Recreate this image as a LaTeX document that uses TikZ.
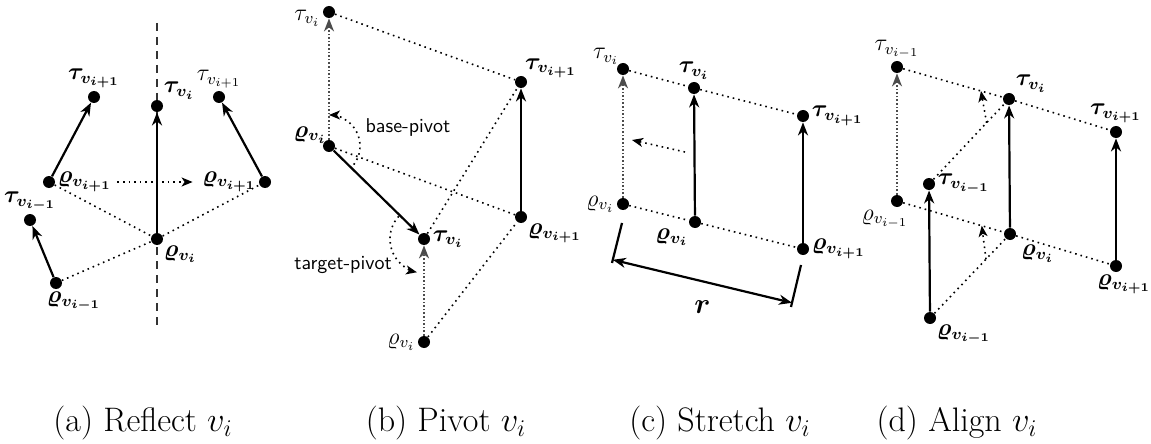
\documentclass[tikz,border=0pt]{standalone}
\usepackage{amsmath,amssymb}
\usepackage{tikz}
\usetikzlibrary{arrows.meta,calc}

\newcommand{\tauvb}[1]{\boldsymbol{\tau_{v_{#1}}}}
\newcommand{\rhovb}[1]{\boldsymbol{\varrho_{v_{#1}}}}
\newcommand{\tauvl}[1]{\tau_{v_{#1}}}
\newcommand{\rhovl}[1]{\varrho_{v_{#1}}}

\begin{document}
\begin{tikzpicture}[
    x=0.5pt, y=-0.5pt,
    dot/.style={circle, fill=black, inner sep=0pt, minimum size=6pt},
    every label/.style={inner sep=1pt, font=\large},
    vec/.style={-{Stealth[length=6.5pt,width=5pt,inset=2pt]}, line width=1.1pt},
    ghost/.style={-{Stealth[length=6.5pt,width=5pt,inset=2pt]}, densely dotted, thick, black!70},
    link/.style={dotted, thick},
    turn/.style={-{Stealth[length=5.5pt,width=4.5pt,inset=1.5pt]}, dotted, thick},
    pivot/.style={font=\sffamily},
    caption/.style={font=\fontsize{17}{20}\selectfont}
]
\useasboundingbox (0,0) rectangle (1151,444);

% (a) reflect
\coordinate (axtop) at (157,23);
\coordinate (axbot) at (157,327);
\draw[semithick, black!80, dash pattern=on 4pt off 3pt] (axtop) -- (axbot);
\node[dot, label=above:$\tauvb{i+1}$] (ta1) at (94,97) {};
\node[dot, label=above right:$\tauvb{i}$] (ta2) at (157,106) {};
\node[dot, label=above:$\tauvl{i+1}$] (ta3) at (219,97) {};
\node[dot, label=above:$\tauvb{i-1}$] (ta0) at (30,220) {};
\node[dot, label=right:$\rhovb{i+1}$] (ra1) at (49,182) {};
\node[dot, label=left:$\rhovb{i+1}$] (ra3) at (265,182) {};
\node[dot, label=below right:$\rhovb{i}$] (ra2) at (157,239) {};
\node[dot, label={[xshift=9pt]below:$\rhovb{i-1}$}] (ra0) at (56,283) {};
\draw[link] (ra1) -- (ra2) -- (ra3);
\draw[link] (ra0) -- (ra2);
\draw[turn, shorten <=31pt, shorten >=33pt] (ra1) -- (ra3);
\draw[vec] (ra1) -- (ta1);
\draw[vec] (ra2) -- (ta2);
\draw[vec] (ra3) -- (ta3);
\draw[vec] (ra0) -- (ta0);

% (b) pivot
\node[dot, label={[yshift=-3pt]left:$\tauvl{i}$}] (tb0) at (329,12) {};
\node[dot, label={[label distance=-2pt]above right:$\tauvb{i+1}$}] (tb2) at (521,82) {};
\node[dot, label={[label distance=-3pt]above left:$\rhovb{i}$}] (rb0) at (329,146) {};
\node[dot, label=below right:$\rhovb{i+1}$] (rb2) at (521,217) {};
\node[dot, label=right:$\tauvb{i}$] (tb1) at (424,239) {};
\node[dot, label=left:$\rhovl{i}$] (rb1) at (424,342) {};
\draw[link] (tb0) -- (tb2);
\draw[link] (rb0) -- (rb2);
\draw[link] (tb1) -- (tb2);
\draw[link] (rb1) -- (rb2);
\draw[ghost] (rb0) -- (tb0);
\draw[ghost] (rb1) -- (tb1);
\draw[vec] (rb2) -- (tb2);
\draw[vec] (rb0) -- (tb1);
\draw[turn] ($(rb0)+(37:31)$) arc[start angle=37, end angle=-90, radius=31];
\draw[turn] ($(tb1)+(222:34)$) arc[start angle=222, end angle=102, radius=34];
\node[pivot] (pivb) at (408,128) {base-pivot};
\node[pivot] (pivt) at (343,265) {target-pivot};

% (c) stretch
\node[dot, label={[label distance=-2pt]above left:$\tauvl{i}$}] (tc0) at (623,69) {};
\node[dot, label=above:$\tauvb{i}$] (tc1) at (694,88) {};
\node[dot, label=right:$\tauvb{i+1}$] (tc2) at (803,116) {};
\node[dot, label=left:$\rhovl{i}$] (rc0) at (623,204) {};
\node[dot, label=below left:$\rhovb{i}$] (rc1) at (695,222) {};
\node[dot, label=right:$\rhovb{i+1}$] (rc2) at (803,249) {};
\draw[link] (tc0) -- (tc1) -- (tc2);
\draw[link] (rc0) -- (rc1) -- (rc2);
\draw[ghost] (rc0) -- (tc0);
\draw[vec] (rc1) -- (tc1);
\draw[vec] (rc2) -- (tc2);
\coordinate (sh1) at (685,152);
\coordinate (sh2) at (632,140);
\draw[turn] (sh1) -- (sh2);
\coordinate (dm1a) at (622,223);
\coordinate (dm1b) at (612,263);
\coordinate (dm2a) at (801,265);
\coordinate (dm2b) at (791,307);
\draw[line width=1.1pt] (dm1a) -- (dm1b);
\draw[line width=1.1pt] (dm2a) -- (dm2b);
\draw[line width=1.1pt, {Stealth[length=6.5pt,width=5pt,inset=2pt]}-{Stealth[length=6.5pt,width=5pt,inset=2pt]}]
    ($(dm1a)!0.92!(dm1b)$) -- node[below=6pt, font=\Large] (rad) {$\boldsymbol{r}$} ($(dm2a)!0.9!(dm2b)$);

% (d) align
\node[dot, label=above:$\tauvl{i-1}$] (td0) at (897,67) {};
\node[dot, label={[xshift=-6pt]below:$\rhovl{i-1}$}] (rd0) at (897,201) {};
\node[dot, label=right:$\tauvb{i-1}$] (td1) at (929,184) {};
\node[dot, label=below right:$\rhovb{i-1}$] (rd1) at (930,318) {};
\node[dot, label=above right:$\tauvb{i}$] (td2) at (1009,99) {};
\node[dot, label={[label distance=3pt]below right:$\rhovb{i}$}] (rd2) at (1010,234) {};
\node[dot, label=above:$\tauvb{i+1}$] (td3) at (1116,132) {};
\node[dot, label={[xshift=4pt]below:$\rhovb{i+1}$}] (rd3) at (1116,266) {};
\draw[link] (td0) -- (td2) -- (td3);
\draw[link] (rd0) -- (rd2) -- (rd3);
\draw[link] (td1) -- (td2);
\draw[link] (rd1) -- (rd2);
\draw[ghost] (rd0) -- (td0);
\draw[vec] (rd1) -- (td1);
\draw[vec] (rd2) -- (td2);
\draw[vec] (rd3) -- (td3);
\coordinate (al1) at ($(td1)!0.72!(td2)$);
\coordinate (al2) at ($(td0)!0.75!(td2)$);
\coordinate (al3) at ($(rd1)!0.7!(rd2)$);
\coordinate (al4) at ($(rd0)!0.75!(rd2)$);
\draw[turn] (al1) -- (al2);
\draw[turn] (al3) -- (al4);

% captions
\node[caption] (capa) at (143,423) {(a) Reflect $v_i$};
\node[caption] (capb) at (446,423) {(b) Pivot $v_i$};
\node[caption] (capc) at (720,423) {(c) Stretch $v_i$};
\node[caption] (capd) at (957,423) {(d) Align $v_i$};
\end{tikzpicture}
\end{document}
